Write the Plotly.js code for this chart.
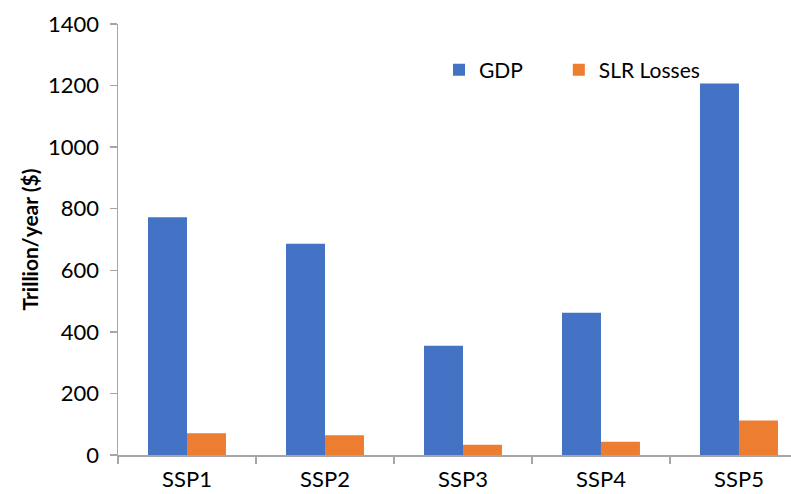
<!DOCTYPE html>
<html>
<head>
<meta charset="utf-8">
<script src="https://cdn.plot.ly/plotly-3.0.1.min.js"></script>
<style>html,body{margin:0;padding:0;background:#fff;}#chart{width:791px;height:494px;}</style>
</head>
<body>
<div id="chart"></div>
<script>
const categories = ["SSP1", "SSP2", "SSP3", "SSP4", "SSP5"];
const gdp = [772, 686, 355, 462, 1207];
const slrLosses = [71, 64, 33, 43, 112];
const yTicks = [0, 200, 400, 600, 800, 1000, 1200, 1400];

const FONT = "Lato, 'Open Sans', sans-serif";
const data = [
  {type: "bar", name: "GDP", x: categories, y: gdp, marker: {color: "#4472C4"}, legend: "legend"},
  {type: "bar", name: "SLR Losses", x: categories, y: slrLosses, marker: {color: "#ED7D31"}, legend: "legend2"}
];
const legendBase = {orientation: "h", xanchor: "left", y: 0.893, yanchor: "middle",
  font: {size: 21, family: FONT, color: "#000"}, bgcolor: "rgba(0,0,0,0)", itemwidth: 30};
const layout = {
  width: 791, height: 494,
  margin: {l: 118, r: 0, t: 24, b: 39},
  paper_bgcolor: "#fff", plot_bgcolor: "#fff",
  barmode: "group", bargap: 0.435, bargroupgap: 0,
  font: {family: FONT, color: "#000", size: 22},
  showlegend: true,
  legend: Object.assign({}, legendBase, {x: 0.477}),
  legend2: Object.assign({}, legendBase, {x: 0.655}),
  xaxis: {type: "category", range: [-0.5, 4.377], showline: true, linecolor: "#A6A6A6", linewidth: 1.5,
          ticks: "outside", tickson: "boundaries", ticklen: 7, tickcolor: "#A6A6A6", tickwidth: 1.5,
          ticklabelstandoff: 4,
          tickfont: {size: 22, family: FONT, color: "#000"}, showgrid: false, zeroline: false, fixedrange: true},
  yaxis: {range: [0, 1400], tickvals: yTicks, ticktext: yTicks.map(String), showline: true, linecolor: "#A6A6A6", linewidth: 1.5,
          ticks: "outside", ticklen: 7, tickcolor: "#A6A6A6", tickwidth: 1.5, showgrid: false, zeroline: false,
          ticklabelstandoff: 6,
          tickfont: {size: 22, family: FONT, color: "#000"},
          title: {text: "<b>Trillion/year ($)</b>", font: {size: 21, family: FONT, color: "#000"}, standoff: 3}}
};
Plotly.newPlot("chart", data, layout, {displayModeBar: false, staticPlot: true});
</script>
</body>
</html>
